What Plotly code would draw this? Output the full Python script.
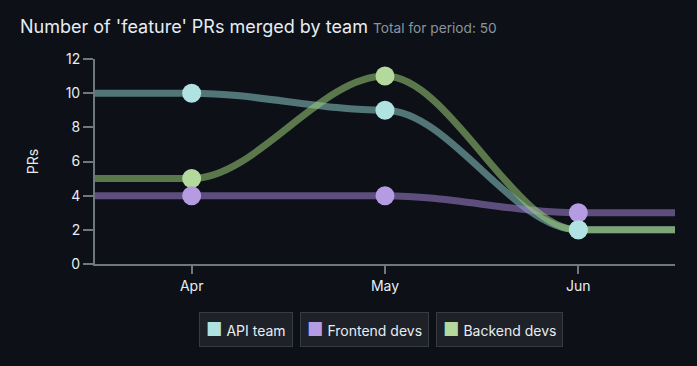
import plotly.graph_objects as go

months = ["Apr", "May", "Jun"]
teams = ["API team", "Frontend devs", "Backend devs"]
api_team = [10, 9, 2]
frontend_devs = [4, 4, 3]
backend_devs = [5, 11, 2]
y_ticks = [0, 2, 4, 6, 8, 10, 12]

series = [api_team, frontend_devs, backend_devs]
marker_colors = ["#b0e2e2", "#b59ce2", "#b4d99c"]
line_colors = ["rgba(140,200,200,0.55)", "rgba(160,130,210,0.55)", "rgba(155,205,120,0.55)"]

BG = "#0d1017"
AXIS = "#6f7780"
TEXT = "#e6edf3"
MUTED = "#8b949e"

idx = list(range(len(months)))
x_range = [-0.5, len(months) - 0.5]
total = sum(sum(s) for s in series)


def smooth_path(xs, ys):
    """SVG path (data coords): cubic segments with horizontal tangents at each point."""
    path = f"M {xs[0]},{ys[0]}"
    for i in range(len(xs) - 1):
        dx = (xs[i + 1] - xs[i]) / 3
        path += (f" C {xs[i] + dx},{ys[i]}"
                 f" {xs[i + 1] - dx},{ys[i + 1]}"
                 f" {xs[i + 1]},{ys[i + 1]}")
    return path


fig = go.Figure()
# smooth lines, extended flat to the plot edges
for vals, lc in zip(series, line_colors):
    lx = [x_range[0]] + idx + [x_range[1]]
    ly = [vals[0]] + vals + [vals[-1]]
    fig.add_shape(type="path", xref="x", yref="y", path=smooth_path(lx, ly),
                  line=dict(color=lc, width=7), layer="below")

# markers (backend first so API ends on top)
for name, vals, mc in reversed(list(zip(teams, series, marker_colors))):
    fig.add_trace(go.Scatter(
        x=idx, y=vals, mode="markers", name=name,
        marker=dict(color=mc, size=19, line=dict(width=0)),
        showlegend=False,
    ))

# legend as separate boxes
legend_x = [0.2595, 0.4638, 0.698]
for name, mc, lx in zip(teams, marker_colors, legend_x):
    fig.add_annotation(
        xref="paper", yref="paper", x=lx, y=-0.32,
        xanchor="center", yanchor="middle",
        text=f'<span style="color:{mc};font-size:18px">■</span> {name}',
        showarrow=False, font=dict(family="Inter, sans-serif", size=14, color=TEXT),
        bgcolor="#1e2128", bordercolor="#363b44", borderwidth=1, borderpad=6,
    )

fig.update_layout(
    width=697, height=366,
    paper_bgcolor=BG, plot_bgcolor=BG,
    margin=dict(l=95, r=22, t=59, b=102),
    font=dict(family="Inter, sans-serif", color=TEXT, size=14),
    title=dict(
        text=(f"Number of 'feature' PRs merged by team "
              f"<span style='font-size:13.7px;color:{MUTED}'>Total for period: {total}</span>"),
        x=20 / 697, xanchor="left", xref="container",
        y=1 - 27 / 366, yanchor="middle", yref="container",
        font=dict(size=18, color=TEXT, family="Inter, sans-serif"),
    ),
    showlegend=False,
)
fig.update_xaxes(
    range=x_range, tickvals=idx, ticktext=months,
    showgrid=False, zeroline=False,
    showline=True, linecolor=AXIS, linewidth=2,
    ticks="outside", ticklen=8, tickwidth=2, tickcolor=AXIS,
    tickfont=dict(size=14, color=TEXT),
)
fig.update_yaxes(
    range=[0, 12], tickvals=y_ticks,
    showgrid=False, zeroline=False,
    showline=True, linecolor=AXIS, linewidth=2,
    ticks="outside", ticklen=10, tickwidth=2, tickcolor=AXIS,
    tickfont=dict(size=14, color=TEXT),
    title=dict(text="PRs", font=dict(size=14, color=TEXT), standoff=24),
)

fig.write_html("out.html")
